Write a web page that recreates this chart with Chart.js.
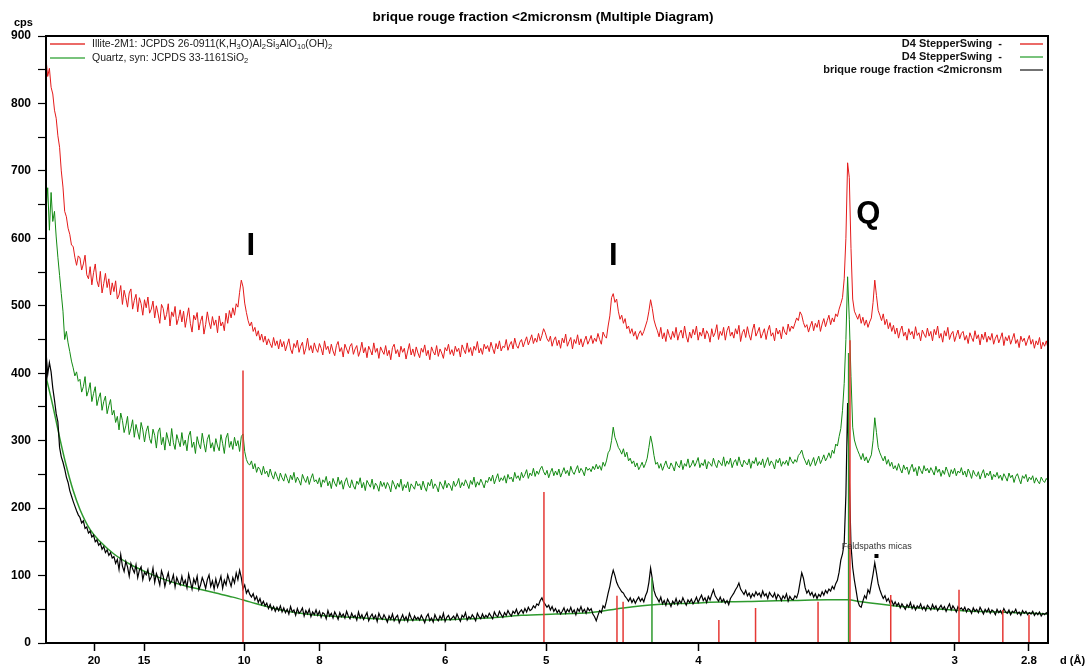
<!DOCTYPE html>
<html>
<head>
<meta charset="utf-8">
<title>brique rouge fraction &lt;2micronsm (Multiple Diagram)</title>
<script src="https://cdn.jsdelivr.net/npm/chart.js@4.4.1/dist/chart.umd.min.js"></script>
<style>
  html, body { margin: 0; padding: 0; background: #fff; }
  #wrap { width: 1089px; height: 667px; }
</style>
</head>
<body>
<div id="wrap"><canvas id="xrd" width="1089" height="667"></canvas></div>
<script>
// scan grid: 2-theta in degrees (Cu K-alpha), one count every 0.05 deg
const TTH_START = 3.0;
const TTH_STEP = 0.05;
const LAMBDA = 1.5406;

// x axis is labelled in d-spacing (Angstrom)
const dTicks = [20, 15, 10, 8, 6, 5, 4, 3, 2.8];

// red pattern (illite reference, offset upwards), one row = 1 deg
const illiteScan = [
  866, 840, 852, 824, 814, 790, 778, 752, 735, 700, 676, 640, 632, 615, 606, 590, 588, 572, 560, 574,
  571, 553, 562, 575, 546, 540, 558, 531, 549, 562, 537, 528, 551, 519, 533, 548, 527, 540, 516, 534,
  521, 537, 510, 516, 530, 502, 523, 512, 498, 519, 525, 495, 508, 517, 491, 512, 503, 486, 509, 497,
  513, 489, 495, 507, 482, 500, 488, 474, 502, 496, 479, 487, 503, 470, 491, 484, 499, 472, 481, 494,
  476, 492, 468, 483, 497, 474, 461, 486, 479, 490, 464, 477, 485, 458, 472, 491, 476, 466, 484, 471,
  479, 460, 485, 470, 476, 463, 489, 474, 493, 482, 497, 486, 503, 498, 520, 538, 528, 504, 490, 478,
  470, 476, 462, 468, 455, 463, 449, 458, 446, 455, 442, 451, 444, 438, 453, 441, 448, 436, 450, 439,
  447, 433, 442, 451, 436, 429, 444, 438, 449, 431, 440, 446, 428, 437, 452, 434, 441, 430, 445, 436,
  431, 444, 437, 427, 448, 435, 440, 429, 443, 433, 426, 441, 447, 432, 438, 424, 443, 436, 429, 440,
  444, 428, 436, 441, 425, 433, 446, 430, 438, 423, 440, 434, 427, 445, 431, 437, 422, 439, 433, 428,
  441, 426, 434, 420, 438, 443, 429, 435, 424, 440, 431, 437, 421, 433, 444, 427, 436, 425, 439, 430,
  423, 437, 431, 442, 426, 434, 420, 439, 432, 427, 441, 425, 436, 430, 422, 438, 433, 443, 428, 435,
  426, 440, 432, 437, 424, 442, 435, 429, 445, 431, 438, 426, 440, 434, 447, 430, 437, 428, 443, 436,
  441, 432, 446, 437, 429, 444, 436, 448, 433, 440, 438, 450, 434, 442, 447, 436, 452, 441, 437, 446,
  450, 439, 447, 454, 442, 449, 457, 444, 452, 446, 459, 448, 456, 466, 460, 451, 447, 455, 440, 449,
  454, 441, 449, 437, 452, 445, 458, 440, 447, 453, 436, 450, 444, 457, 442, 451, 439, 448, 455, 443,
  449, 456, 444, 452, 447, 459, 450, 443, 461, 455, 452, 470, 485, 512, 518, 505, 510, 492, 480, 486,
  474, 481, 466, 470, 459, 466, 455, 462, 450, 458, 463, 456, 462, 470, 478, 492, 509, 496, 479, 470,
  463, 454, 468, 451, 460, 447, 465, 456, 450, 462, 453, 468, 449, 459, 464, 452, 470, 455, 446, 461,
  452, 465, 457, 470, 449, 461, 455, 467, 451, 463, 458, 446, 466, 454, 460, 472, 450, 462, 456, 468,
  449, 463, 470, 455, 461, 452, 466, 458, 471, 447, 460, 465, 453, 469, 457, 449, 464, 473, 455, 461,
  468, 452, 459, 466, 450, 463, 471, 455, 460, 448, 467, 458, 464, 451, 469, 461, 457, 473, 462, 470,
  466, 474, 482, 478, 491, 486, 475, 468, 472, 461, 470, 477, 463, 474, 468, 479, 462, 473, 481, 469,
  478, 486, 472, 482, 476, 488, 484, 495, 503, 512, 540, 600, 712, 690, 585, 510, 492, 486, 480, 488,
  474, 483, 471, 479, 468, 476, 482, 505, 538, 515, 493, 486, 478, 488, 472, 480, 466, 475, 462, 471,
  458, 467, 452, 463, 470, 455, 461, 449, 466, 457, 462, 451, 469, 456, 460, 448, 464, 458, 453, 467,
  455, 462, 448, 465, 457, 470, 452, 459, 446, 463, 455, 468, 450, 458, 462, 447, 456, 464, 451, 459,
  462, 449, 456, 444, 460, 453, 447, 463, 451, 457, 442, 458, 450, 461, 446, 455, 449, 459, 443, 452,
  457, 445, 452, 460, 441, 454, 448, 456, 443, 451, 459, 444, 450, 438, 455, 447, 452, 441, 449, 456,
  443, 450, 437, 448, 442, 453, 436, 446, 440, 448, 437
];

// green pattern (quartz reference, offset upwards)
const quartzScan = [
  640, 675, 612, 668, 625, 640, 602, 572, 545, 518, 492, 450, 462, 445, 432, 418, 408, 396, 402, 388,
  391, 372, 380, 395, 366, 374, 386, 358, 370, 380, 352, 363, 371, 345, 358, 366, 340, 352, 361, 338,
  345, 327, 336, 316, 341, 330, 312, 322, 336, 309, 318, 331, 305, 324, 313, 302, 327, 316, 298, 314,
  322, 303, 296, 317, 308, 289, 313, 319, 294, 305, 286, 312, 301, 292, 318, 297, 287, 309, 300, 291,
  312, 293, 301, 285, 307, 314, 290, 298, 281, 306, 295, 288, 311, 296, 283, 302, 309, 289, 297, 284,
  303, 292, 285, 309, 296, 281, 304, 311, 290, 299, 287, 305, 292, 300, 284, 306, 310, 284, 272, 266,
  264, 270, 258, 266, 253, 261, 257, 249, 262, 251, 255, 246, 258, 249, 243, 254, 247, 240, 252, 245,
  240, 251, 244, 237, 249, 242, 253, 238, 246, 241, 234, 250, 243, 238, 247, 235, 244, 251, 239, 242,
  236, 245, 231, 242, 238, 247, 233, 240, 229, 244, 237, 232, 246, 235, 241, 228, 239, 245, 234, 230,
  242, 233, 228, 240, 235, 245, 230, 238, 226, 241, 236, 231, 243, 228, 237, 233, 225, 240, 232, 238,
  229, 238, 233, 224, 241, 235, 228, 237, 231, 243, 226, 235, 230, 239, 224, 236, 232, 228, 240, 233,
  236, 227, 240, 231, 225, 238, 233, 243, 229, 236, 232, 224, 239, 234, 228, 241, 230, 237, 233, 226,
  240, 232, 236, 244, 230, 238, 233, 242, 236, 229, 241, 235, 246, 231, 239, 234, 243, 237, 230, 241,
  238, 246, 240, 249, 236, 244, 251, 239, 245, 241, 248, 237, 250, 243, 246, 239, 253, 244, 248, 241,
  253, 245, 250, 257, 244, 252, 248, 259, 247, 255, 250, 258, 262, 254, 249, 256, 245, 253, 259, 248,
  255, 249, 258, 246, 253, 260, 251, 256, 248, 262, 254, 250, 257, 263, 252, 259, 255, 248, 261, 256,
  259, 254, 262, 257, 265, 258, 263, 256, 268, 262, 270, 282, 286, 300, 320, 305, 298, 290, 286, 280,
  288, 276, 283, 270, 274, 266, 270, 261, 267, 257, 262, 268, 260, 266, 274, 290, 307, 295, 278, 265,
  268, 259, 266, 256, 263, 270, 261, 258, 267, 262, 255, 269, 263, 260, 271, 257, 266, 262, 273, 260,
  264, 271, 262, 268, 275, 260, 267, 263, 272, 258, 269, 266, 262, 274, 265, 260, 271, 267, 263, 276,
  262, 270, 265, 274, 260, 268, 272, 263, 276, 266, 261, 271, 267, 264, 273, 259, 270, 266, 275, 263,
  269, 264, 273, 260, 268, 275, 263, 270, 266, 258, 272, 267, 274, 262, 269, 265, 271, 263, 276, 270,
  266, 272, 268, 278, 281, 286, 276, 270, 264, 272, 262, 268, 275, 263, 270, 277, 266, 272, 279, 270,
  275, 282, 274, 286, 281, 295, 292, 306, 318, 345, 385, 450, 543, 480, 395, 320, 301, 292, 285, 279,
  272, 281, 270, 276, 267, 273, 279, 300, 334, 312, 290, 282, 276, 270, 277, 265, 272, 262, 268, 258,
  263, 256, 266, 258, 252, 264, 257, 261, 250, 259, 265, 254, 260, 248, 262, 256, 251, 263, 255, 259,
  252, 260, 255, 249, 262, 253, 258, 247, 256, 250, 261, 254, 246, 257, 251, 259, 248, 255, 252, 260,
  249, 255, 246, 258, 252, 244, 256, 250, 247, 254, 243, 251, 257, 245, 252, 248, 255, 242, 250, 246,
  253, 244, 249, 241, 251, 246, 240, 252, 245, 249, 238, 247, 251, 243, 236, 248, 244, 250, 239, 246,
  242, 248, 237, 245, 240, 236, 246, 241, 238, 244, 240
];

// black pattern: the measured sample
const sampleScan = [
  432, 398, 416, 402, 378, 360, 340, 328, 290, 276, 268, 258, 246, 238, 226, 218, 210, 203, 196, 190,
  186, 178, 181, 170, 172, 163, 166, 157, 160, 150, 153, 145, 148, 139, 143, 134, 138, 130, 134, 126,
  128, 118, 124, 109, 131, 114, 106, 121, 113, 99, 118, 110, 104, 116, 97, 108, 113, 94, 105, 101,
  109, 93, 98, 111, 90, 103, 96, 86, 107, 99, 84, 95, 104, 88, 92, 101, 83, 97, 90, 86,
  99, 87, 93, 82, 102, 91, 80, 95, 88, 99, 79, 86, 97, 90, 81, 94, 101, 84, 92, 80,
  95, 83, 90, 99, 81, 93, 86, 101, 92, 84, 97, 89, 104, 94, 108, 97, 80, 86, 74, 79,
  72, 68, 73, 64, 69, 60, 66, 57, 62, 55, 59, 51, 57, 49, 54, 47, 53, 48, 55, 46,
  52, 45, 50, 43, 54, 46, 49, 41, 51, 44, 47, 52, 40, 48, 43, 50, 39, 46, 42, 49,
  41, 47, 38, 45, 43, 36, 48, 40, 44, 37, 46, 41, 35, 45, 39, 43, 37, 47, 40, 36,
  44, 38, 41, 34, 46, 37, 42, 35, 40, 45, 33, 39, 43, 36, 41, 32, 44, 38, 35, 42,
  37, 31, 40, 35, 43, 33, 38, 41, 30, 36, 42, 34, 39, 32, 44, 37, 33, 40, 35, 38,
  34, 41, 36, 30, 39, 43, 33, 37, 31, 42, 36, 33, 40, 35, 44, 32, 38, 41, 34, 37,
  40, 35, 43, 37, 32, 41, 38, 45, 34, 39, 36, 42, 38, 33, 44, 39, 36, 43, 37, 41,
  38, 44, 40, 36, 46, 41, 39, 47, 42, 38, 45, 41, 48, 43, 40, 47, 44, 50, 42, 46,
  49, 44, 51, 46, 53, 48, 50, 55, 52, 58, 56, 63, 67, 61, 57, 53, 56, 49, 54, 47,
  51, 45, 49, 43, 47, 52, 44, 50, 46, 53, 45, 49, 42, 51, 47, 54, 46, 50, 44, 52,
  48, 51, 43, 39, 33, 41, 48, 45, 55, 52, 62, 74, 84, 98, 108, 100, 90, 84, 80, 76,
  74, 69, 66, 62, 67, 60, 65, 59, 64, 68, 62, 66, 61, 70, 76, 90, 111, 95, 78, 70,
  66, 61, 68, 58, 63, 56, 65, 60, 54, 62, 58, 66, 57, 63, 59, 67, 61, 56, 64, 60,
  65, 58, 62, 68, 60, 66, 71, 63, 67, 60, 69, 64, 72, 79, 70, 66, 62, 68, 61, 65,
  59, 63, 57, 66, 70, 74, 79, 83, 89, 80, 76, 72, 78, 70, 74, 67, 73, 69, 76, 71,
  74, 68, 77, 70, 73, 66, 75, 71, 68, 74, 65, 72, 69, 63, 70, 66, 73, 62, 69, 65,
  64, 70, 67, 75, 90, 104, 96, 82, 74, 78, 71, 75, 68, 73, 66, 72, 69, 76, 71, 78,
  74, 80, 77, 84, 80, 88, 93, 105, 123, 132, 148, 220, 356, 245, 145, 112, 93, 78, 62, 55,
  53, 62, 70, 66, 79, 74, 88, 102, 119, 104, 88, 79, 72, 66, 70, 62, 66, 59, 63, 56,
  61, 55, 59, 52, 58, 54, 50, 57, 53, 60, 51, 56, 49, 55, 52, 58, 50, 54, 48, 56,
  53, 49, 57, 51, 55, 48, 52, 56, 50, 54, 47, 53, 58, 49, 55, 51, 46, 54, 50, 52,
  48, 53, 46, 51, 49, 44, 52, 47, 50, 45, 53, 48, 43, 50, 46, 51, 44, 49, 47, 42,
  50, 45, 48, 43, 51, 46, 44, 49, 42, 47, 45, 50, 43, 46, 41, 48, 44, 47, 42, 45,
  43, 47, 41, 45, 42, 46, 40, 44, 42, 45, 41
];

// fitted background under the sample
const bgTheta = [3.0, 3.2, 3.4, 3.6, 3.8, 4.0, 4.3, 4.6, 5.0, 5.5, 6.0, 6.5, 7.0, 7.5, 8.0, 8.5, 9.0, 9.5, 10.0, 10.5,
  11, 12, 13, 14, 15, 16, 17, 18, 19, 20, 21, 22, 23, 24, 25, 26, 26.6, 27, 28, 29, 30, 31, 32, 32.5];
const bgCps = [395, 352, 305, 262, 226, 198, 168, 150, 132, 116, 104, 94, 86, 80, 74, 68, 61, 54, 48, 44,
  41, 38, 35, 34, 35, 37, 41, 43, 45, 52, 57, 59, 61, 62, 63, 64, 64, 61, 55, 51, 48, 46, 44, 43];

// reference cards (stick patterns)
const illiteTheta = [8.80, 17.66, 19.81, 19.99, 22.81, 23.89, 25.73, 26.67, 27.87, 29.88, 31.17, 31.94];
const illiteCps = [404, 224, 70, 61, 34, 52, 61, 449, 71, 79, 49, 42];
const quartzTheta = [20.84, 26.63];
const quartzCps = [96, 430];

// peak labels
const peakText = ['I', 'I', 'Q'];
const peakTheta = [9.03, 19.70, 27.21];
const peakCps = [588, 573, 635];

const FONT = '"Liberation Sans", Arial, sans-serif';

function ttFromD(d) {
  return 2 * Math.asin(LAMBDA / (2 * d)) * 180 / Math.PI;
}

function asXY(arr) {
  return arr.map((v, i) => ({ x: +(TTH_START + i * TTH_STEP).toFixed(2), y: v }));
}

function sticks(thetas, heights) {
  const out = [];
  thetas.forEach((t, k) => {
    out.push({ x: t, y: 0 }, { x: t, y: heights[k] }, { x: t, y: null });
  });
  return out;
}

// text with subscripts, parts = [[text, isSub], ...]
function drawRich(ctx, parts, x, y, size) {
  parts.forEach(([txt, sub]) => {
    ctx.font = (sub ? size * 0.72 : size) + 'px ' + FONT;
    ctx.fillText(txt, x, sub ? y + 3 : y);
    x += ctx.measureText(txt).width;
  });
}

const decor = {
  id: 'decor',
  afterDatasetsDraw(chart) {
    const { ctx, chartArea: a, scales: { x, y } } = chart;
    ctx.save();

    // frame
    ctx.strokeStyle = '#000';
    ctx.lineWidth = 2;
    ctx.strokeRect(a.left, a.top, a.right - a.left, a.bottom - a.top);

    ctx.fillStyle = '#000';
    ctx.textBaseline = 'middle';

    // title
    ctx.textAlign = 'center';
    ctx.font = 'bold 13.5px ' + FONT;
    ctx.fillText('brique rouge fraction <2micronsm (Multiple Diagram)', 543, 17);

    // axis captions
    ctx.textAlign = 'left';
    ctx.font = 'bold 11px ' + FONT;
    ctx.fillText('cps', 14, 23);
    ctx.fillText('d (\u00C5)', 1060, 661);

    // peak markers
    ctx.textAlign = 'center';
    ctx.font = 'bold 31px ' + FONT;
    peakText.forEach((t, k) => {
      ctx.fillText(t, x.getPixelForValue(peakTheta[k]), y.getPixelForValue(peakCps[k]));
    });
    ctx.font = '9px ' + FONT;
    ctx.fillStyle = '#333';
    ctx.fillText('Feldspaths micas', x.getPixelForValue(27.46), y.getPixelForValue(143));
    ctx.fillStyle = '#000';
    ctx.fillRect(x.getPixelForValue(27.45) - 2, y.getPixelForValue(129) - 2, 4, 4);

    // left legend (reference cards)
    ctx.textAlign = 'left';
    ctx.lineWidth = 1.5;
    ctx.strokeStyle = '#e53935';
    ctx.beginPath(); ctx.moveTo(50, 44); ctx.lineTo(85, 44); ctx.stroke();
    ctx.strokeStyle = '#4caf50';
    ctx.beginPath(); ctx.moveTo(50, 58); ctx.lineTo(85, 58); ctx.stroke();
    ctx.fillStyle = '#1a1a1a';
    drawRich(ctx, [['Illite-2M1: JCPDS 26-0911(K,H', 0], ['3', 1], ['O)Al', 0], ['2', 1], ['Si', 0], ['3', 1],
      ['AlO', 0], ['10', 1], ['(OH)', 0], ['2', 1]], 92, 44, 10.5);
    drawRich(ctx, [['Quartz, syn: JCPDS 33-1161SiO', 0], ['2', 1]], 92, 58, 10.5);

    // right legend (scans)
    const rows = [['D4 StepperSwing  -', '#e53935'], ['D4 StepperSwing  -', '#4caf50'],
      ['brique rouge fraction <2micronsm', '#444']];
    ctx.textAlign = 'right';
    ctx.font = 'bold 11px ' + FONT;
    rows.forEach(([txt, col], k) => {
      const ry = 44 + k * 13;
      ctx.fillStyle = '#111';
      ctx.fillText(txt, 1002, ry);
      ctx.strokeStyle = col;
      ctx.beginPath(); ctx.moveTo(1020, ry); ctx.lineTo(1043, ry); ctx.stroke();
    });

    ctx.restore();
  }
};

Chart.defaults.font.family = FONT;

new Chart(document.getElementById('xrd'), {
  type: 'line',
  data: {
    datasets: [
      { label: 'Illite-2M1', data: sticks(illiteTheta, illiteCps), borderColor: '#e53935', borderWidth: 1.5, order: 0 },
      { label: 'Quartz, syn', data: sticks(quartzTheta, quartzCps), borderColor: '#2e9a2e', borderWidth: 1.5, order: 0 },
      { label: 'brique rouge fraction <2micronsm', data: asXY(sampleScan), borderColor: '#000', borderWidth: 1.2, order: 1 },
      {
        label: 'background', data: bgTheta.map((t, k) => ({ x: t, y: bgCps[k] })),
        borderColor: '#2e9a2e', borderWidth: 1.5, cubicInterpolationMode: 'monotone', order: 2
      },
      { label: 'D4 StepperSwing (quartz)', data: asXY(quartzScan), borderColor: '#138a13', borderWidth: 1, order: 3 },
      { label: 'D4 StepperSwing (illite)', data: asXY(illiteScan), borderColor: '#e41a1a', borderWidth: 1, order: 4 }
    ]
  },
  options: {
    responsive: false,
    animation: false,
    devicePixelRatio: 1,
    spanGaps: false,
    layout: { padding: { top: 36, right: 41, left: 0, bottom: 0 } },
    elements: { point: { radius: 0 }, line: { tension: 0 } },
    plugins: { legend: { display: false }, tooltip: { enabled: false }, title: { display: false } },
    scales: {
      x: {
        type: 'linear',
        min: 3,
        max: 32.5,
        afterBuildTicks: (scale) => { scale.ticks = dTicks.map(d => ({ value: ttFromD(d) })); },
        afterFit: (scale) => { scale.height = 24; },
        ticks: {
          autoSkip: false, maxRotation: 0, padding: 3, color: '#000',
          font: { size: 11.5, weight: 'bold' },
          callback: (v, i) => String(dTicks[i])
        },
        grid: { drawOnChartArea: false, drawTicks: true, tickLength: 8, tickColor: '#000', tickWidth: 1.5 },
        border: { display: true, color: '#000', width: 2 }
      },
      y: {
        min: 0,
        max: 900,
        afterFit: (scale) => { scale.width = 46; },
        ticks: {
          stepSize: 50, autoSkip: false, padding: 7, color: '#000',
          font: { size: 12, weight: 'bold' },
          callback: (v) => (v % 100 === 0 ? v : '')
        },
        grid: { drawOnChartArea: false, drawTicks: true, tickLength: 8, tickColor: '#000', tickWidth: 1.2 },
        border: { display: true, color: '#000', width: 2 }
      }
    }
  },
  plugins: [decor]
});
</script>
</body>
</html>
